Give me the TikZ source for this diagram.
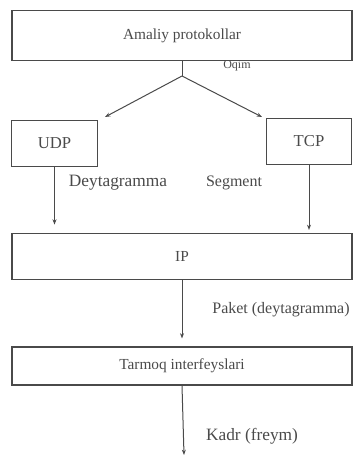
\documentclass[tikz,border=0pt]{standalone}
\usepackage{fontspec}
\setmainfont{Liberation Serif}
\usepackage{tikz}
\usetikzlibrary{arrows.meta, calc}
\definecolor{inkgray}{HTML}{4A4A4A}

\begin{document}
\begin{tikzpicture}[
  x=0.75pt, y=-0.75pt,
  layer/.style={draw=inkgray, line width=0.8pt, inner sep=0pt, text=inkgray,
                minimum height=36pt, font=\fontsize{11.5}{13}\selectfont},
  wide/.style={layer, minimum width=255pt},
  proto/.style={layer, minimum width=64pt, minimum height=35pt, font=\fontsize{12.5}{14}\selectfont},
  lbl/.style={text=inkgray, inner sep=0pt, font=\fontsize{12}{14}\selectfont},
  arr/.style={-{Stealth[length=4pt, width=3pt]}, draw=inkgray, line width=0.75pt},
  line/.style={draw=inkgray, line width=0.75pt}
]
\useasboundingbox (0,0) rectangle (359,457);

\node[wide, minimum height=38pt] (app) at (182,35.5) {Amaliy protokollar};
\node[proto] (udp) at (54.5,143.5) {UDP};
\node[proto] (tcp) at (309,141.5) {TCP};
\node[wide, minimum height=35pt] (ip) at (182,256.5) {IP};
\node[wide, minimum height=28.5pt] (net) at (182,366) {Tarmoq interfeyslari};

\coordinate (fork) at (182,76);
\coordinate (udpin) at (105,117);
\coordinate (tcpin) at (262,117);
\coordinate (out) at (184,455);

\draw[line] (app.south) -- (fork);
\draw[arr] (fork) -- (udpin);
\draw[arr] (fork) -- (tcpin);
\draw[arr, shorten >=6pt] (udp.south) -- (udp.south |- ip.north);
\draw[arr, shorten >=2pt] (tcp.south) -- (tcp.south |- ip.north);
\draw[arr, shorten >=6pt] (ip.south) -- (ip.south |- net.north);
\draw[arr] (net.south) -- (out);

\node[lbl, font=\fontsize{9}{11}\selectfont] (oqim) at (237,66) {Oqim};
\node[lbl, font=\fontsize{13}{15}\selectfont] (dgram) at (118,183) {Deytagramma};
\node[lbl] (seg) at (234,183) {Segment};
\node[lbl] (paket) at (281,310) {Paket (deytagramma)};
\node[lbl, font=\fontsize{13}{15}\selectfont] (kadr) at (252,436) {Kadr (freym)};
\end{tikzpicture}
\end{document}
